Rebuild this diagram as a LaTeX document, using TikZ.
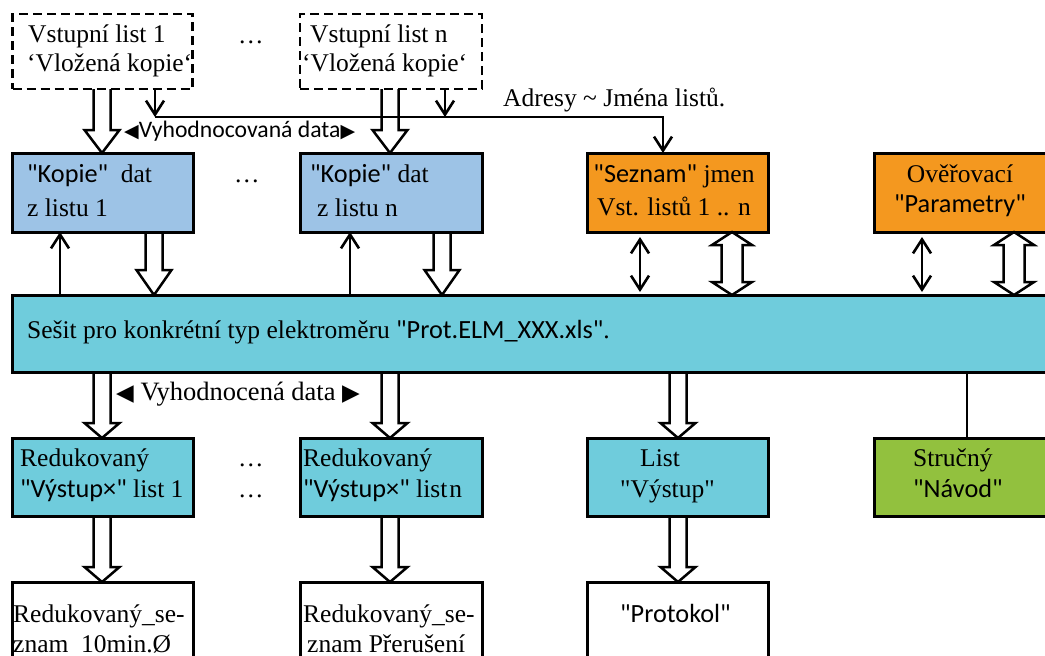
\documentclass[tikz,border=0pt]{standalone}
\usepackage{fontspec}
\setmainfont{Liberation Serif}
\newfontfamily\tnr{Liberation Serif}
\newfontfamily\calfont[Scale=1.03]{Carlito}
\newfontfamily\djv{DejaVu Sans}
\usetikzlibrary{arrows.meta,calc}
\definecolor{cblue}{RGB}{157,195,230}
\definecolor{ccyan}{RGB}{111,204,220}
\definecolor{corange}{RGB}{244,152,31}
\definecolor{cgreen}{RGB}{146,193,62}
\newcommand\hdown[3]{\draw[hollow] let \p1=#1, \p2=#2 in (\x1-8.5pt,\y1) -- (\x1-8.5pt,\y2+#3) -- (\x1-17.5pt,\y2+#3) -- (\x1,\y2) -- (\x1+17.5pt,\y2+#3) -- (\x1+8.5pt,\y2+#3) -- (\x1+8.5pt,\y1);}
\newcommand\hdouble[2]{\draw[hollow] let \p1=#1, \p2=#2 in (\x1,\y1) -- (\x1+20pt,\y1-13pt) -- (\x1+10.5pt,\y1-13pt) -- (\x1+10.5pt,\y2+13pt) -- (\x1+20pt,\y2+13pt) -- (\x1,\y2) -- (\x1-20pt,\y2+13pt) -- (\x1-10.5pt,\y2+13pt) -- (\x1-10.5pt,\y1-13pt) -- (\x1-20pt,\y1-13pt) -- cycle;}
\begin{document}
\begin{tikzpicture}[x=1pt,y=-1pt,
  box/.style={draw=black,line width=3pt,inner sep=0pt,outer sep=0pt,anchor=north west},
  dbox/.style={draw=black,line width=2.8pt,dash pattern=on 9pt off 5pt,inner sep=0pt,outer sep=0pt,anchor=north west,minimum width=180pt,minimum height=75pt},
  txt/.style={inner sep=0pt,anchor=base west,align=left,font=\fontsize{25.5}{30}\selectfont},
  ctxt/.style={inner sep=0pt,anchor=base,align=center,font=\fontsize{25.5}{30}\selectfont},
  hollow/.style={draw=black,line width=2.5pt,line join=miter},
  thin/.style={draw=black,line width=2.6pt},
  >={Straight Barb[length=14pt,width=18pt]}
]
\useasboundingbox (0,0) rectangle (1045,656);
\clip (0,0) rectangle (1045,656);
% columns
\coordinate (c60) at (60,0);
\coordinate (c102) at (102,0);
\coordinate (c154) at (154,0);
\coordinate (c350) at (350,0);
\coordinate (c390) at (390,0);
\coordinate (c442) at (442,0);
\coordinate (c445) at (445,0);
\coordinate (c640) at (640,0);
\coordinate (c678) at (678,0);
\coordinate (c732) at (732,0);
\coordinate (c922) at (922,0);
\coordinate (c967) at (967,0);
\coordinate (c1014) at (1014,0);
\coordinate (busL) at (155,117);
\coordinate (busR) at (663,117);
% boxes
\node[dbox] (in1) at (12.7,14) {};
\node[dbox,minimum width=182pt] (inn) at (300,14) {};
\node[box,fill=cblue,minimum width=181pt,minimum height=79pt] (k1) at (12,153) {};
\node[box,fill=cblue,minimum width=182pt,minimum height=79pt] (kn) at (300,153) {};
\node[box,fill=corange,minimum width=181pt,minimum height=79pt] (sez) at (587,153) {};
\node[box,fill=corange,minimum width=182pt,minimum height=79pt] (par) at (874,153) {};
\node[box,fill=ccyan,minimum width=1045pt,minimum height=77pt] (bar) at (12,295) {};
\node[box,fill=ccyan,minimum width=181pt,minimum height=78pt] (r1) at (12,438) {};
\node[box,fill=ccyan,minimum width=182pt,minimum height=78pt] (rn) at (300,438) {};
\node[box,fill=ccyan,minimum width=181pt,minimum height=78pt] (list) at (587,438) {};
\node[box,fill=cgreen,minimum width=182pt,minimum height=78pt] (nav) at (874,438) {};
\node[box,fill=white,minimum width=181pt,minimum height=98pt] (b1) at (12,582) {};
\node[box,fill=white,minimum width=182pt,minimum height=98pt] (bn) at (300,582) {};
\node[box,fill=white,minimum width=181pt,minimum height=98pt] (prot) at (587,582) {};
% texts (anchor = baseline of the last line)
\node[txt,font=\fontsize{25.5}{28.5}\selectfont] (in1t) at (27,71) {\hspace*{1pt}Vstupní list 1\\‘Vložená kopie‘};
\node[txt,font=\fontsize{25.5}{28.5}\selectfont] (innt) at (302,71) {\hspace*{8pt}Vstupní list n\\‘Vložená kopie‘};
\node[txt] (d1) at (238,43) {…};
\node[txt,font=\fontsize{25.5}{34}\selectfont] (k1t) at (27,216) {{\calfont "Kopie"}\ \ dat\\z listu 1};
\node[txt,font=\fontsize{25.5}{34}\selectfont] (knt) at (310,216) {{\calfont "Kopie"} dat\\\hspace*{7pt}z listu n};
\node[txt] (d2) at (234,182) {…};
\node[ctxt,font=\fontsize{25.5}{33}\selectfont] (sezt) at (674,215) {{\calfont "Seznam"} jmen\\Vst. listů 1 .. n};
\node[ctxt,font=\fontsize{25.5}{30}\selectfont] (part) at (960,212) {Ověřovací\\{\calfont "Parametry"}};
\node[txt] (bart) at (27,338) {Sešit pro konkrétní typ elektroměru {\calfont "Prot.ELM\_XXX.xls"}.};
\node[txt] (adr) at (503,106) {Adresy \textasciitilde{} Jména listů.};
\node[txt,font=\fontsize{23}{26}\selectfont] (vyh1) at (124,137) {{\djv\fontsize{19}{19}\selectfont ◀}{\calfont Vyhodnocovaná data}{\djv\fontsize{19}{19}\selectfont ▶}};
\node[txt,font=\fontsize{26.5}{30}\selectfont] (vyh2) at (116,400) {{\djv\fontsize{23}{23}\selectfont ◀} Vyhodnocená data {\djv\fontsize{23}{23}\selectfont ▶}};
\node[txt,font=\fontsize{25.5}{31}\selectfont] (r1t) at (20,497) {Redukovaný\\{\calfont "Výstup×"} list 1};
\node[txt,font=\fontsize{25.5}{31}\selectfont] (rnt) at (303,497) {Redukovaný\\{\calfont "Výstup×"} list\hspace{2pt}n};
\node[txt] (d3) at (238,466) {…};
\node[txt] (d4) at (238,497) {…};
\node[txt,font=\fontsize{25.5}{31}\selectfont] (listt) at (620,497) {\hspace*{20pt}List\\{\tnr "Výstup"}};
\node[txt,font=\fontsize{25.5}{31}\selectfont] (navt) at (913,497) {Stručný\\{\calfont "Návod"}};
\node[txt,font=\fontsize{25.5}{30}\selectfont] (b1t) at (13,652) {Redukovaný\_se-\\znam\ \ 10min.Ø};
\node[txt,font=\fontsize{25.5}{30}\selectfont] (bnt) at (303,652) {Redukovaný\_se-\\\hspace*{4pt}znam Přerušení};
\node[txt] (prott) at (620,622) {{\calfont "Protokol"}};
% connectors
\hdown{(in1.south -| c102)}{(k1.north -| c102)}{23pt}
\hdown{(inn.south -| c390)}{(kn.north -| c390)}{23pt}
\draw[thin,->] (in1.south -| busL) -- (busL);
\draw[thin,->] (inn.south -| c445) -- (c445 |- busL);
\draw[thin,->] (busL) -- (busR) -- (sez.north -| busR);
\draw[thin,->] (bar.north -| c60) -- (k1.south -| c60);
\draw[thin,->] (bar.north -| c350) -- (kn.south -| c350);
\hdown{(k1.south -| c154)}{(bar.north -| c154)}{25pt}
\hdown{(kn.south -| c442)}{(bar.north -| c442)}{25pt}
\draw[thin,<->,shorten <=5pt,shorten >=3pt] (sez.south -| c640) -- (bar.north -| c640);
\draw[thin,<->,shorten <=5pt,shorten >=3pt] (par.south -| c922) -- (bar.north -| c922);
\hdouble{(sez.south -| c732)}{(bar.north -| c732)}
\hdouble{(par.south -| c1014)}{(bar.north -| c1014)}
\hdown{(bar.south -| c102)}{(r1.north -| c102)}{15pt}
\hdown{(bar.south -| c390)}{(rn.north -| c390)}{15pt}
\hdown{(bar.south -| c678)}{(list.north -| c678)}{15pt}
\hdown{(r1.south -| c102)}{(b1.north -| c102)}{15pt}
\hdown{(rn.south -| c390)}{(bn.north -| c390)}{15pt}
\hdown{(list.south -| c678)}{(prot.north -| c678)}{15pt}
\draw[thin] (bar.south -| c967) -- (nav.north -| c967);
\end{tikzpicture}
\end{document}
